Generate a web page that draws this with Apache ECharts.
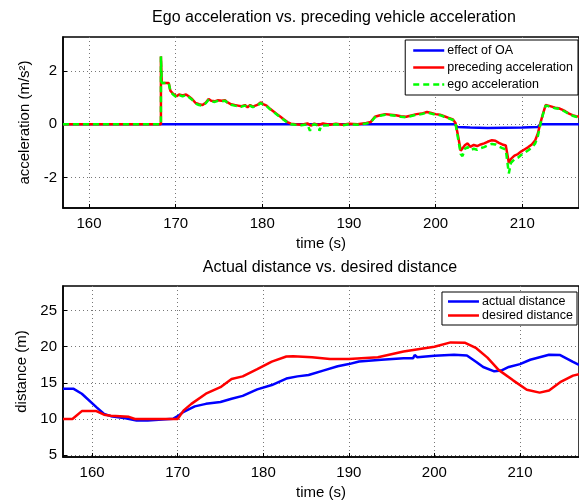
<!DOCTYPE html>
<html>
<head>
<meta charset="utf-8">
<script src="https://cdn.jsdelivr.net/npm/echarts@6/dist/echarts.min.js"></script>
<style>
html,body{margin:0;padding:0;background:#fff;}
#chart{width:579px;height:503px;}
</style>
</head>
<body>
<div id="chart"></div>
<script>
// ---------- DATA ----------
const timeTicks = [160, 170, 180, 190, 200, 210];
const accTicks = [-2, 0, 2];
const distTicks = [5, 10, 15, 20, 25];

// effect of OA
const oaTime = [157, 202.2, 202.5, 204, 206, 208, 210, 211.8, 212.1, 216.8];
const oaEffect = [0, 0, -0.1, -0.12, -0.14, -0.13, -0.12, -0.1, 0, 0];

// preceding acceleration
const precTime = [157, 168.3, 168.3, 168.4, 169.2, 169.4, 169.7, 170.1, 170.4, 170.8, 171.2, 171.5, 171.9, 172.3, 172.7, 173.1, 173.5, 173.8, 174.1, 174.5, 174.9, 175.3, 175.7, 176.0, 176.4, 176.8, 177.2, 177.6, 178.0, 178.3, 178.6, 178.9, 179.2, 179.5, 179.8, 180.1, 180.5, 180.9, 181.3, 181.7, 182.1, 182.5, 182.9, 183.3, 183.8, 184.5, 185.2, 185.6, 186.0, 186.5, 187.0, 187.8, 188.5, 189.3, 190.0, 191.0, 192.0, 192.5, 193.0, 193.6, 194.2, 194.8, 195.4, 196.0, 196.6, 197.2, 197.8, 198.4, 199.0, 199.5, 200.0, 200.5, 201.0, 201.5, 202.0, 202.3, 202.6, 202.9, 203.1, 203.4, 203.7, 204.0, 204.4, 204.8, 205.2, 205.6, 206.0, 206.5, 206.9, 207.3, 207.7, 208.1, 208.3, 208.45, 208.7, 209.1, 209.5, 209.9, 210.3, 210.7, 211.1, 211.5, 211.8, 212.1, 212.4, 212.7, 213.0, 213.4, 213.8, 214.2, 214.6, 215.0, 215.4, 215.8, 216.2, 216.8];
const precAcc = [0, 0, 2.55, 1.55, 1.55, 1.25, 1.15, 1.05, 1.12, 1.08, 1.12, 1.05, 0.95, 0.8, 0.75, 0.72, 0.82, 0.95, 0.88, 0.86, 0.9, 0.88, 0.9, 0.82, 0.75, 0.72, 0.7, 0.68, 0.72, 0.64, 0.72, 0.66, 0.7, 0.74, 0.82, 0.76, 0.7, 0.58, 0.48, 0.38, 0.28, 0.18, 0.08, 0.02, 0, -0.02, 0.03, -0.05, 0.02, -0.03, 0.03, -0.02, 0.02, -0.02, 0.02, 0.0, 0.05, 0.08, 0.28, 0.34, 0.38, 0.36, 0.34, 0.3, 0.28, 0.33, 0.38, 0.4, 0.46, 0.42, 0.38, 0.36, 0.3, 0.24, 0.18, 0.05, -0.45, -1.0, -1.05, -0.78, -0.72, -0.85, -0.78, -0.82, -0.76, -0.72, -0.66, -0.6, -0.62, -0.7, -0.76, -0.8, -0.76, -1.45, -1.3, -1.18, -1.12, -1.02, -0.94, -0.86, -0.76, -0.6, -0.35, 0.05, 0.4, 0.72, 0.7, 0.66, 0.62, 0.6, 0.55, 0.48, 0.4, 0.34, 0.3, 0.28];

// ego acceleration
const egoTime = [157, 168.3, 168.3, 168.4, 169.2, 169.4, 169.7, 170.1, 170.4, 170.8, 171.2, 171.5, 171.9, 172.3, 172.7, 173.1, 173.5, 173.8, 174.1, 174.5, 174.9, 175.3, 175.7, 176.0, 176.4, 176.8, 177.2, 177.6, 178.0, 178.3, 178.6, 178.9, 179.2, 179.5, 179.8, 180.1, 180.5, 180.9, 181.3, 181.7, 182.1, 182.5, 182.9, 183.3, 183.8, 184.5, 185.2, 185.5, 185.7, 186.0, 186.5, 186.6, 186.8, 187.0, 187.8, 188.5, 189.3, 190.0, 191.0, 192.0, 192.5, 193.0, 193.6, 194.2, 194.8, 195.4, 196.0, 196.6, 197.2, 197.8, 198.4, 199.0, 199.5, 200.0, 200.5, 201.0, 201.5, 202.0, 202.3, 202.6, 202.9, 203.1, 203.4, 203.7, 204.0, 204.4, 204.8, 205.2, 205.6, 206.0, 206.5, 206.9, 207.3, 207.7, 208.1, 208.3, 208.45, 208.7, 209.1, 209.5, 209.9, 210.3, 210.7, 211.1, 211.5, 211.8, 212.1, 212.4, 212.7, 213.0, 213.4, 213.8, 214.2, 214.6, 215.0, 215.4, 215.8, 216.2, 216.8];
const egoAcc = [0, 0, 2.55, 1.55, 1.55, 1.22, 1.12, 1.02, 1.1, 1.05, 1.1, 1.02, 0.92, 0.78, 0.72, 0.7, 0.8, 0.92, 0.86, 0.84, 0.88, 0.86, 0.88, 0.8, 0.73, 0.7, 0.68, 0.66, 0.7, 0.62, 0.7, 0.64, 0.68, 0.72, 0.8, 0.74, 0.68, 0.56, 0.46, 0.36, 0.26, 0.16, 0.06, 0.0, -0.02, -0.04, 0.0, -0.25, -0.05, 0.0, -0.05, -0.25, -0.05, 0.01, -0.04, 0.0, -0.04, 0.0, -0.02, 0.03, 0.06, 0.26, 0.32, 0.36, 0.34, 0.32, 0.28, 0.26, 0.31, 0.36, 0.38, 0.44, 0.4, 0.36, 0.34, 0.28, 0.22, 0.16, 0.02, -0.55, -1.12, -1.2, -0.92, -0.86, -0.98, -0.92, -0.96, -0.9, -0.86, -0.8, -0.74, -0.76, -0.84, -0.9, -0.95, -0.92, -1.85, -1.45, -1.32, -1.26, -1.15, -1.07, -0.98, -0.88, -0.72, -0.45, 0.0, 0.38, 0.7, 0.68, 0.64, 0.6, 0.58, 0.53, 0.46, 0.38, 0.32, 0.28, 0.26];

// distances
const actTime = [156.6, 157.8, 158.8, 160.5, 161.4, 162.2, 163.9, 165.2, 166.5, 169.5, 170.0, 170.7, 172.0, 173.3, 175.0, 176.3, 177.6, 179.3, 181.0, 182.7, 184.0, 185.3, 187.0, 188.7, 190.0, 191.2, 193.8, 196.4, 197.5, 197.7, 198.0, 200.0, 202.3, 203.8, 204.9, 205.7, 207.0, 207.8, 208.7, 210.0, 211.2, 213.4, 214.7, 216.2, 216.9];
const actDist = [14.2, 14.2, 13.5, 11.65, 10.7, 10.4, 10.1, 9.8, 9.8, 10.05, 10.4, 11.0, 11.75, 12.1, 12.35, 12.8, 13.2, 14.1, 14.7, 15.6, 15.9, 16.1, 16.7, 17.3, 17.6, 17.95, 18.2, 18.4, 18.4, 18.85, 18.55, 18.75, 18.9, 18.8, 17.9, 17.2, 16.6, 16.7, 17.2, 17.6, 18.2, 18.9, 18.85, 17.9, 17.5];

const desTime = [156.6, 157.7, 158.8, 160.5, 161.4, 162.2, 164.3, 164.5, 165.0, 170.0, 170.7, 171.6, 173.3, 175.0, 176.3, 177.6, 179.3, 181.0, 182.7, 183.5, 185.7, 187.8, 190.0, 193.4, 196.4, 200.0, 201.9, 203.6, 204.9, 206.2, 207.5, 209.2, 210.8, 212.3, 213.4, 214.7, 216.2, 216.9];
const desDist = [10.0, 10.0, 11.1, 11.1, 10.6, 10.45, 10.3, 10.1, 10.0, 10.0, 11.2, 12.1, 13.5, 14.4, 15.55, 15.9, 16.9, 17.95, 18.65, 18.7, 18.55, 18.3, 18.3, 18.55, 19.35, 20.0, 20.6, 20.55, 19.8, 18.5, 16.8, 15.35, 14.05, 13.65, 13.95, 15.1, 16.0, 16.2];

// ---------- CHART ----------
const zip = (a, b) => a.map((t, i) => [t, b[i]]);
const FONT = 'Liberation Sans, Arial, Helvetica, sans-serif';
const gridLeft = 63, gridRight = -3;
const SOLID_ICON = 'path://M0,0H31V2.5H0Z';
const DASH_ICON = 'path://M0,0H6V2.5H0Z M10,0H16V2.5H10Z M20,0H26V2.5H20Z M29,0H31V2.5H29Z';

function xAxisCfg(gridIndex, min, max) {
  return {
    type: 'value', gridIndex, min, max,
    name: 'time (s)', nameLocation: 'middle', nameGap: 28,
    nameTextStyle: { fontFamily: FONT, fontSize: 15, color: '#000' },
    axisLine: { show: true, onZero: false, lineStyle: { color: '#000', width: 1.5 } },
    axisTick: { show: true, inside: true, length: 4, customValues: timeTicks, lineStyle: { color: '#000' } },
    axisLabel: { customValues: timeTicks, fontFamily: FONT, fontSize: 15, color: '#000', margin: 8 },
    splitLine: { show: true, lineStyle: { type: [1, 3], color: '#777', width: 1 } }
  };
}
function yAxisCfg(gridIndex, min, max, ticks, name) {
  return {
    type: 'value', gridIndex, min, max,
    name, nameLocation: 'middle', nameGap: 31,
    nameTextStyle: { fontFamily: FONT, fontSize: 15, color: '#000' },
    axisLine: { show: true, onZero: false, lineStyle: { color: '#000', width: 1.5 } },
    axisTick: { show: true, inside: true, length: 4, customValues: ticks, lineStyle: { color: '#000' } },
    axisLabel: { customValues: ticks, fontFamily: FONT, fontSize: 15, color: '#000', margin: 6 },
    splitLine: { show: true, lineStyle: { type: [1, 3], color: '#777', width: 1 } }
  };
}

const legendCommon = {
  orient: 'vertical', backgroundColor: '#fff', borderColor: '#000', borderWidth: 1,
  itemWidth: 31, itemHeight: 2.5, borderRadius: 0,
  textStyle: { fontFamily: FONT, fontSize: 12.5, color: '#000', padding: [0, 0, 0, -2] }
};

const option = {
  animation: false,
  backgroundColor: '#fff',
  title: [
    { text: 'Ego acceleration vs. preceding vehicle acceleration', left: 329, top: 5, textAlign: 'center',
      textStyle: { fontFamily: FONT, fontSize: 16, fontWeight: 'normal', color: '#000' } },
    { text: 'Actual distance vs. desired distance', left: 325, top: 255, textAlign: 'center',
      textStyle: { fontFamily: FONT, fontSize: 16, fontWeight: 'normal', color: '#000' } }
  ],
  grid: [
    { left: gridLeft, right: gridRight, top: 37, height: 171, show: true, borderColor: '#000', borderWidth: 1.5, backgroundColor: '#fff' },
    { left: gridLeft, right: gridRight, top: 286, height: 171, show: true, borderColor: '#000', borderWidth: 1.5, backgroundColor: '#fff' }
  ],
  xAxis: [xAxisCfg(0, 157, 216.55), xAxisCfg(1, 156.6, 216.9)],
  yAxis: [
    yAxisCfg(0, -3.15, 3.28, accTicks, 'acceleration (m/s²)'),
    yAxisCfg(1, 4.75, 28.4, distTicks, 'distance (m)')
  ],
  legend: [
    Object.assign({}, legendCommon, {
      data: [
        { name: 'effect of OA', icon: SOLID_ICON },
        { name: 'preceding acceleration', icon: SOLID_ICON },
        { name: 'ego acceleration', icon: DASH_ICON }
      ],
      right: 1, top: 40, itemGap: 4, padding: [4, 5, 4, 8]
    }),
    Object.assign({}, legendCommon, {
      data: [
        { name: 'actual distance', icon: SOLID_ICON },
        { name: 'desired distance', icon: SOLID_ICON }
      ],
      right: 2, top: 292, itemGap: 1, padding: [3, 4, 3, 6]
    })
  ],
  series: [
    { name: 'effect of OA', type: 'line', xAxisIndex: 0, yAxisIndex: 0, data: zip(oaTime, oaEffect),
      showSymbol: false, symbol: 'none', lineStyle: { color: '#0000ff', width: 2.5 }, itemStyle: { color: '#0000ff' } },
    { name: 'preceding acceleration', type: 'line', xAxisIndex: 0, yAxisIndex: 0, data: zip(precTime, precAcc),
      showSymbol: false, symbol: 'none', lineStyle: { color: '#ff0000', width: 2.5 }, itemStyle: { color: '#ff0000' } },
    { name: 'ego acceleration', type: 'line', xAxisIndex: 0, yAxisIndex: 0, data: zip(egoTime, egoAcc),
      showSymbol: false, symbol: 'none', lineStyle: { color: '#00ff00', width: 2.5, type: [6, 4] }, itemStyle: { color: '#00ff00' } },
    { name: 'actual distance', type: 'line', xAxisIndex: 1, yAxisIndex: 1, data: zip(actTime, actDist),
      showSymbol: false, symbol: 'none', lineStyle: { color: '#0000ff', width: 2.5 }, itemStyle: { color: '#0000ff' } },
    { name: 'desired distance', type: 'line', xAxisIndex: 1, yAxisIndex: 1, data: zip(desTime, desDist),
      showSymbol: false, symbol: 'none', lineStyle: { color: '#ff0000', width: 2.5 }, itemStyle: { color: '#ff0000' } }
  ]
};

const chart = echarts.init(document.getElementById('chart'), null, { renderer: 'canvas' });
chart.setOption(option);
</script>
</body>
</html>
